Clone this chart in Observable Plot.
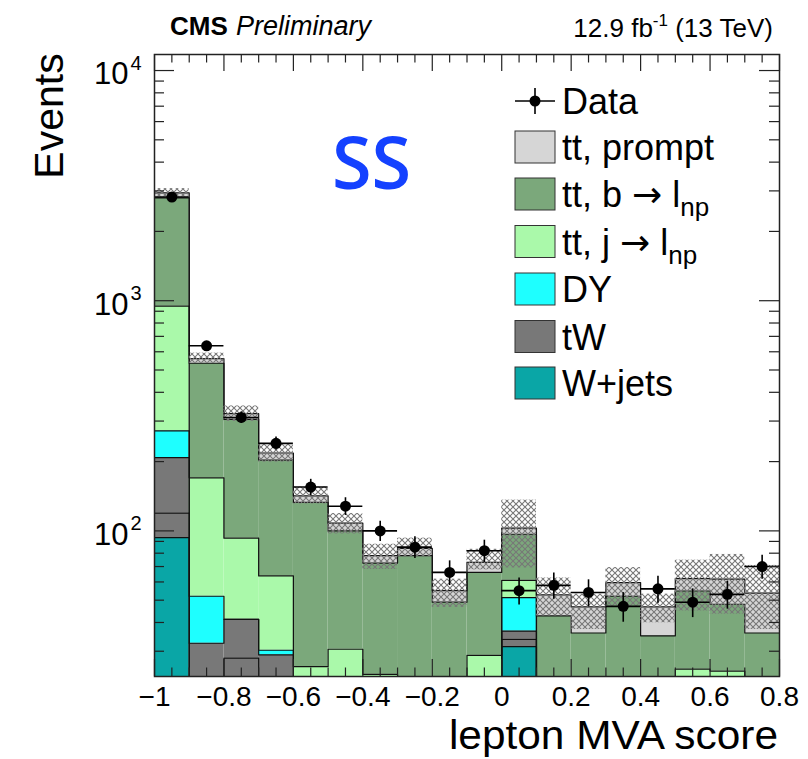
<!DOCTYPE html>
<html><head><meta charset="utf-8">
<script src="https://cdn.jsdelivr.net/npm/d3@7"></script>
<script src="https://cdn.jsdelivr.net/npm/@observablehq/plot@0.6"></script>
<style>
body{margin:0;background:#fff;}
#wrap{position:relative;width:808px;height:759px;font-family:"Liberation Sans",Arial,sans-serif;}
#overlay{position:absolute;left:0;top:0;pointer-events:none;}
#chart{position:absolute;left:0;top:0;}
</style></head><body>
<svg width="0" height="0" style="position:absolute">
<defs><pattern id="hatch" patternUnits="userSpaceOnUse" width="6" height="6"><path d="M0,0L6,6M6,0L0,6" stroke="#777" stroke-width="1.1" fill="none"/></pattern></defs></svg>
<div id="wrap"><div id="chart"></div>
<svg id="overlay" width="808" height="759" font-family="Liberation Sans, Arial, sans-serif">
  <text x="170" y="35" font-size="26" font-weight="bold">CMS</text>
  <text x="236" y="35" font-size="27" font-style="italic">Preliminary</text>
  <text x="773" y="37" font-size="26" text-anchor="end">12.9 fb<tspan font-size="17" dy="-11">-1</tspan><tspan dy="11"> (13 TeV)</tspan></text>
  <text transform="translate(63,116) rotate(-90)" font-size="41" text-anchor="middle">Events</text>
  <text transform="translate(778,749) scale(1.06,1)" font-size="40" text-anchor="end">lepton MVA score</text>
  <text x="332" y="189" font-size="72" font-weight="600" font-family="Open Sans, sans-serif" fill="#1441ff">SS</text>
  <g id="legend"></g>
</svg>
</div>
<script>
// ---- data ----
const binLow = [-1.0, -0.9, -0.8, -0.7, -0.6, -0.5, -0.4, -0.3, -0.2, -0.1, 0.0, 0.1, 0.2, 0.3, 0.4, 0.5, 0.6, 0.7];
const binWidth = 0.1;
const wjets  = [93.5, 0, 0, 0, 0, 0, 0, 0, 0, 0, 31.4, 0, 0, 0, 0, 0, 0, 0];
const tWa    = [26, 0, 28, 0, 0, 0, 0, 0, 0, 0, 2.4, 0, 0, 0, 0, 0, 0, 0];
const tWb    = [88.5, 32.5, 13.3, 28.9, 0, 0, 0, 0, 0, 0, 2.9, 0, 0, 0, 0, 0, 0, 0];
const dy     = [64, 19.5, 0, 1.4, 0, 0, 0, 0, 0, 0, 14.6, 0, 0, 0, 0, 0, 0, 0];
const ttj    = [676, 118, 51.7, 33.4, 25.7, 30.6, 23.8, 0, 0, 28.8, 9.7, 0, 0, 0, 0, 25.1, 24.6, 0];
const ttb    = [1850, 365, 212, 139.3, 107.3, 69.4, 48.7, 78, 49, 37.2, 35.7, 42.7, 36, 52, 35, 29.7, 23.4, 36];
const prompt = [145, 25, 18, 15, 9, 8, 5.5, 6, 6, 7, 6, 10, 10.8, 7.6, 11.8, 7.2, 13.7, 17.6];
const uncLow  = [2820, 535, 299, 199, 131, 97, 68, 77, 46.5, 67.7, 69, 42.7, 37.3, 46.5, 39.9, 44.9, 43.5, 37.3];
const uncHigh = [3070, 592, 349, 238, 155, 119, 87.5, 93, 61.7, 83.2, 136, 62.4, 53.1, 69.3, 53.1, 74.6, 79, 70.8];
const dataVals = [2820, 637, 311, 240, 155, 128, 100, 85, 66, 82, 55, 58, 54, 47, 56, 49, 53, 70];
const dataErr  = [53, 25, 18, 15.5, 12.5, 11.3, 10, 9.2, 8.1, 9.1, 7.4, 7.6, 7.3, 6.9, 7.5, 7, 7.3, 8.4];
const xMajor = [-1, -0.8, -0.6, -0.4, -0.2, 0, 0.2, 0.4, 0.6, 0.8];
const xMajorLabels = ["\u22121", "\u22120.8", "\u22120.6", "\u22120.4", "\u22120.2", "0", "0.2", "0.4", "0.6", "0.8"];
const xMinor = [-0.95, -0.9, -0.85, -0.75, -0.7, -0.65, -0.55, -0.5, -0.45, -0.35, -0.3, -0.25, -0.15, -0.1, -0.05, 0.05, 0.1, 0.15, 0.25, 0.3, 0.35, 0.45, 0.5, 0.55, 0.65, 0.7, 0.75];
const yMajor = [100, 1000, 10000];
const yExp = ["2", "3", "4"];
const yMinor = [30, 40, 50, 60, 70, 80, 90, 200, 300, 400, 500, 600, 700, 800, 900, 2000, 3000, 4000, 5000, 6000, 7000, 8000, 9000];

const layers = [
  {name: "W+jets", values: wjets, color: "#0aa6a6"},
  {name: "tW", values: tWa, color: "#787878"},
  {name: "tW", values: tWb, color: "#787878"},
  {name: "DY", values: dy, color: "#1effff"},
  {name: "tt, j ", arrow: true, sub: "np", values: ttj, color: "#aaf9aa"},
  {name: "tt, b ", arrow: true, sub: "np", values: ttb, color: "#7ba87b"},
  {name: "tt, prompt", values: prompt, color: "#d6d6d6"}
];

// ---- stacking ----
const FLOOR = 1;
let cum = binLow.map(() => 0);
const rects = [], steps = [];
layers.forEach((L, k) => {
  const top = cum.map((c, i) => c + L.values[i]);
  binLow.forEach((x, i) => {
    if (L.values[i] > 0) rects.push({x1: x, x2: x + binWidth, y1: Math.max(cum[i], FLOOR), y2: top[i], fill: L.color});
  });
  binLow.forEach((x, i) => steps.push({x, y: Math.max(top[i], FLOOR), layer: k}));
  steps.push({x: binLow[binLow.length - 1] + binWidth, y: Math.max(top[top.length - 1], FLOOR), layer: k});
  cum = top;
});
const band = binLow.map((x, i) => ({x1: x, x2: x + binWidth, lo: uncLow[i], hi: uncHigh[i]}));
const pts = binLow.map((x, i) => ({x: x + binWidth / 2, v: dataVals[i], e: dataErr[i]}));

const FH = 622, FW = 625;
const plot = Plot.plot({
  width: 808, height: 759,
  marginLeft: 154, marginRight: 29, marginTop: 54, marginBottom: 83,
  x: {domain: [-1, 0.8], axis: null},
  y: {type: "log", domain: [23.3, 11740], axis: null},
  color: {type: "identity"},
  style: {fontFamily: "Liberation Sans, Arial, sans-serif", background: "transparent", color: "#000"},
  marks: [
    Plot.rect(rects, {x1: "x1", x2: "x2", y1: "y1", y2: "y2", fill: "fill", clip: true}),
    Plot.line(steps, {x: "x", y: "y", z: "layer", curve: "step-after", stroke: "#111", strokeWidth: 1.2, clip: true}),
    Plot.rect(band, {x1: "x1", x2: "x2", y1: "lo", y2: "hi", fill: () => "url(#hatch)", clip: true}),
    Plot.ruleY(pts, {x1: d => d.x - binWidth / 2, x2: d => d.x + binWidth / 2, y: "v", stroke: "#000", strokeWidth: 1.6}),
    Plot.ruleX(pts, {x: "x", y1: d => d.v - d.e, y2: d => d.v + d.e, stroke: "#000", strokeWidth: 1.6}),
    Plot.dot(pts, {x: "x", y: "v", r: 5.5, fill: "#000"}),
    Plot.tickX(xMajor, {x: d => d, insetTop: FH - 17, stroke: "#222", strokeWidth: 1.2}),
    Plot.tickX(xMajor, {x: d => d, insetBottom: FH - 17, stroke: "#222", strokeWidth: 1.2}),
    Plot.tickX(xMinor, {x: d => d, insetTop: FH - 8.5, stroke: "#222", strokeWidth: 1.2}),
    Plot.tickX(xMinor, {x: d => d, insetBottom: FH - 8.5, stroke: "#222", strokeWidth: 1.2}),
    Plot.tickY(yMajor, {y: d => d, insetRight: FW - 20, stroke: "#222", strokeWidth: 1.2}),
    Plot.tickY(yMajor, {y: d => d, insetLeft: FW - 20, stroke: "#222", strokeWidth: 1.2}),
    Plot.tickY(yMinor, {y: d => d, insetRight: FW - 10, stroke: "#222", strokeWidth: 1.2}),
    Plot.tickY(yMinor, {y: d => d, insetLeft: FW - 10, stroke: "#222", strokeWidth: 1.2}),
    Plot.frame({stroke: "#222", strokeWidth: 1.5}),
    Plot.text(xMajor, {x: d => d, text: (d, i) => xMajorLabels[i], frameAnchor: "bottom", lineAnchor: "top", dy: 10, fontSize: 28, fill: "#000"}),
    Plot.text(yMajor, {y: d => d, text: () => "10", frameAnchor: "left", textAnchor: "end", dx: -26, dy: 4, fontSize: 31, fill: "#000"}),
    Plot.text(yMajor, {y: d => d, text: (d, i) => yExp[i], frameAnchor: "left", textAnchor: "start", dx: -24, dy: -7, fontSize: 20, fill: "#000"})
  ]
});
document.getElementById("chart").appendChild(plot);

// ---- legend ----
const ns = "http://www.w3.org/2000/svg";
const lg = document.getElementById("legend");
function el(tag, attrs, parent) { const e = document.createElementNS(ns, tag); for (const k in attrs) e.setAttribute(k, attrs[k]); (parent || lg).appendChild(e); return e; }
el("line", {x1: 515, x2: 555, y1: 101, y2: 101, stroke: "#000", "stroke-width": 1.6});
el("line", {x1: 535, x2: 535, y1: 88, y2: 114, stroke: "#000", "stroke-width": 1.6});
el("circle", {cx: 535, cy: 101, r: 5.5, fill: "#000"});
const t0 = el("text", {x: 562, y: 114, "font-size": 36}); t0.textContent = "Data";
const legendOrder = [6, 5, 4, 3, 2, 0];
const centers = [147, 194, 241.5, 289, 336.5, 383];
legendOrder.forEach((k, j) => {
  const L = layers[k], cy = centers[j];
  el("rect", {x: 515, y: cy - 16, width: 40, height: 32, fill: L.color, stroke: "#333", "stroke-width": 1});
  const t = el("text", {x: 562, y: cy + 13, "font-size": 36});
  t.appendChild(document.createTextNode(L.name));
  if (L.arrow) {
    const a = el("tspan", {"font-family": "DejaVu Sans, sans-serif", "font-size": 36}, t); a.textContent = "\u2192";
    const l = el("tspan", {}, t); l.textContent = " l";
  }
  if (L.sub) { const s = el("tspan", {"font-size": 26, dy: 9}, t); s.textContent = L.sub; }
});
</script>
</body></html>
